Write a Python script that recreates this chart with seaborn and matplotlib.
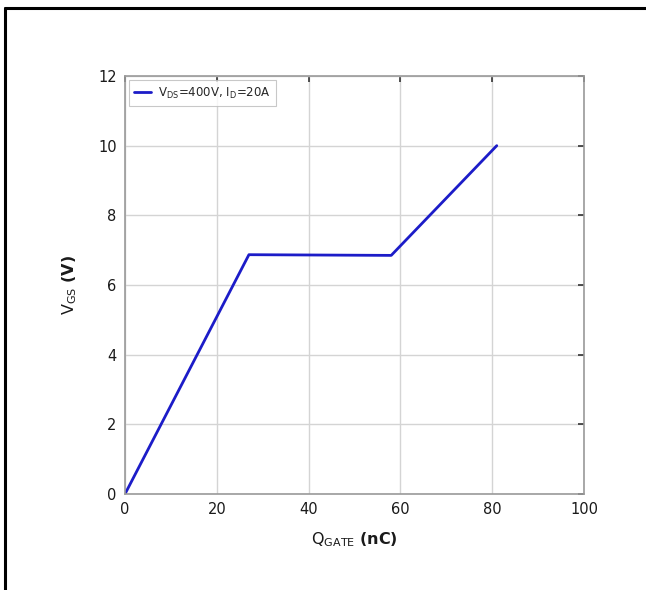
import matplotlib
matplotlib.use("Agg")
import matplotlib.pyplot as plt
import seaborn as sns
import pandas as pd
from matplotlib.lines import Line2D

# Gate charge curve
q_gate = [0, 27, 58, 81]
v_gs = [0, 6.87, 6.85, 10]
series_label = r"V$_{\mathregular{DS}}$=400V, I$_{\mathregular{D}}$=20A"

x_ticks = [0, 20, 40, 60, 80, 100]
y_ticks = [0, 2, 4, 6, 8, 10, 12]

sns.set_theme(style="whitegrid")
plt.rcParams["font.family"] = ["DejaVu Sans"]
plt.rcParams["mathtext.fontset"] = "custom"
plt.rcParams["mathtext.rm"] = "DejaVu Sans"
plt.rcParams["mathtext.bf"] = "DejaVu Sans:bold"

df = pd.DataFrame({"Q": q_gate, "V": v_gs})

fig = plt.figure(figsize=(6.46, 5.90), dpi=100)
ax = fig.add_axes([0.1935, 0.1627, 0.7105, 0.7085])

sns.lineplot(data=df, x="Q", y="V", ax=ax, color="#1c1cc8", linewidth=2.0,
             label=series_label, sort=False)

ax.set_xlim(0, 100)
ax.set_ylim(0, 12)
ax.set_xticks(x_ticks)
ax.set_yticks(y_ticks)
ax.grid(True, color="#d4d4d4", linewidth=1.0)
for s in ax.spines.values():
    s.set_color("#9a9a9a")
    s.set_linewidth(1.2)
ax.tick_params(direction="in", length=4, width=1.2, color="#333333",
               top=True, right=True, labelsize=10.5, labelcolor="#1a1a1a", pad=6)

ax.set_xlabel(r"Q$_{\mathregular{GATE}}$ $\mathbf{(nC)}$", fontsize=11.5, color="#1a1a1a", labelpad=9)
ax.set_ylabel(r"V$_{\mathregular{GS}}$ $\mathbf{(V)}$", fontsize=11.5, color="#1a1a1a", labelpad=14)

leg = ax.legend(loc="upper left", fontsize=8.5, frameon=True, fancybox=False,
                handlelength=1.4, handletextpad=0.6, borderpad=0.45, borderaxespad=0.35)
leg.get_frame().set_edgecolor("#bbbbbb")
leg.get_frame().set_linewidth(0.8)

# Figure frame along the top and left edges
fig.add_artist(Line2D([5 / 646, 1.0], [1 - 8 / 590, 1 - 8 / 590],
                      transform=fig.transFigure, color="black", linewidth=2.2))
fig.add_artist(Line2D([5 / 646, 5 / 646], [0.0, 1 - 8 / 590],
                      transform=fig.transFigure, color="black", linewidth=2.2))

fig.savefig("out.png", dpi=100)
